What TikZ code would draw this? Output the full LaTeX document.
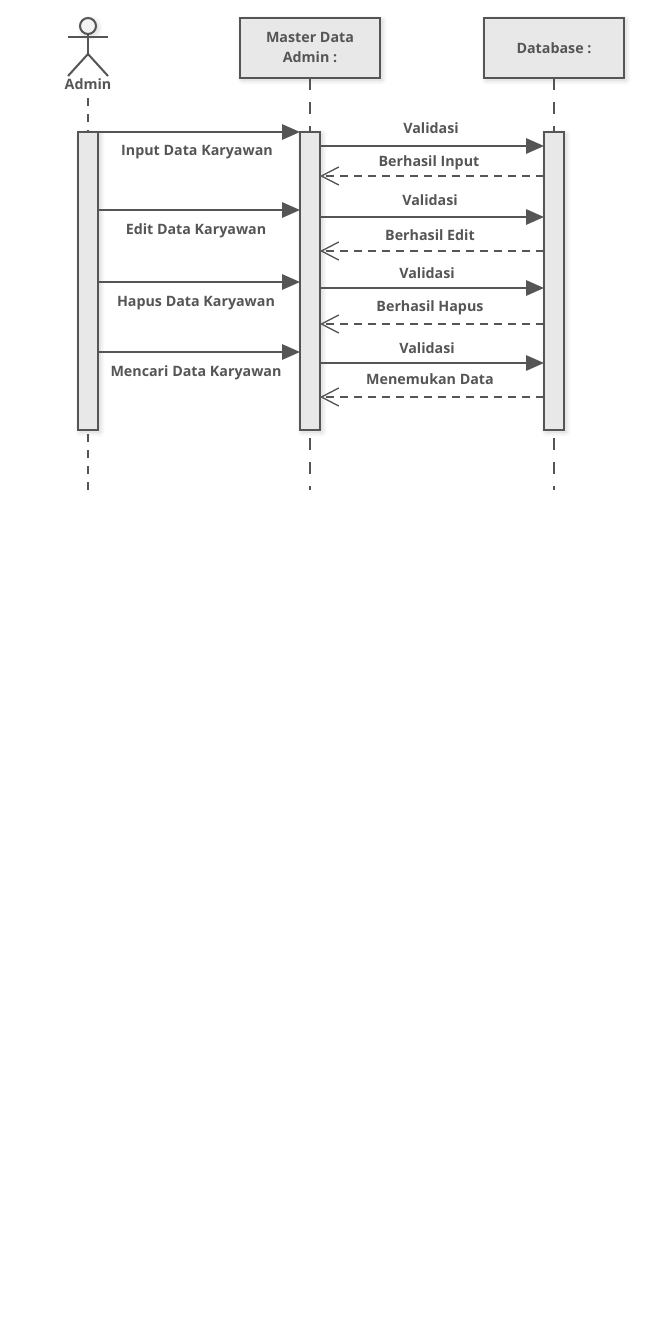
\documentclass[tikz,border=0pt]{standalone}
\usepackage{xcolor}
\usepackage{fontspec}
\setmainfont{Open Sans}
\usepackage{tikz}
\usetikzlibrary{arrows.meta,shadows.blur}
\definecolor{ink}{HTML}{555555}
\definecolor{panel}{HTML}{E8E8E8}
\tikzset{
  soft/.style={blur shadow={shadow xshift=1.5pt,shadow yshift=-1.5pt,shadow blur steps=8,shadow blur radius=4pt,shadow opacity=18}},
  objbox/.style={draw=ink,fill=panel,line width=1.5pt,minimum width=105pt,minimum height=45pt,outer sep=0pt,inner sep=0pt,align=center,text=ink,font=\fontsize{10.7}{15}\selectfont\bfseries,soft},
  actbar/.style={draw=ink,fill=panel,line width=1.5pt,minimum width=15pt,minimum height=223.5pt,outer sep=0pt,inner sep=0pt,soft},
  txt/.style={text=ink,inner sep=0pt,font=\fontsize{10.7}{13}\selectfont\bfseries},
  lifeline/.style={draw=ink,line width=1.5pt,dash pattern=on 9pt off 9pt},
  actorline/.style={draw=ink,line width=1.5pt,dash pattern=on 6pt off 6pt},
  call/.style={draw=ink,line width=1.5pt,-{Triangle[length=13.5pt,width=11.5pt]}},
  reply/.style={draw=ink,line width=1.5pt,dash pattern=on 6pt off 4.5pt,-{Straight Barb[length=13pt,width=13.5pt,line width=1pt]}}
}
\begin{document}
\begin{tikzpicture}[x=0.75pt,y=-0.75pt]
\useasboundingbox (0,0) rectangle (644,1342);

\node[objbox] (master) at (310,48) {Master Data\\Admin :};
\node[objbox] (database) at (554,48) {Database :};
\node[txt] (admin) at (88,84) {Admin};

\coordinate (adminend) at (88,490);
\coordinate (masterend) at (310,490);
\coordinate (databaseend) at (554,490);

\node[actbar] (adminbar) at (88,281) {};
\node[actbar] (masterbar) at (310,281) {};
\node[actbar] (databasebar) at (554,281) {};

\draw[actorline] (admin.south |- 0,98) -- (adminbar.north);
\draw[lifeline] (master.south) -- (masterbar.north);
\draw[lifeline] (database.south) -- (databasebar.north);
\draw[actorline,dash phase=9pt] (adminbar.south) -- (adminend);
\draw[lifeline,dash phase=12pt] (masterbar.south) -- (masterend);
\draw[lifeline,dash phase=12pt] (databasebar.south) -- (databaseend);

\node[circle,draw=ink,line width=1.5pt,fill=panel!50!white,minimum size=12pt,inner sep=0pt,outer sep=0pt,soft] (head) at (88,26) {};
\coordinate (hip) at (88,54);
\draw[draw=ink,line width=1.5pt] (head.south) -- (hip);
\draw[draw=ink,line width=1.5pt] (68,37) -- (108,37);
\draw[draw=ink,line width=1.5pt] (68,76) -- (hip) -- (108,76);

\draw[call] (adminbar.east |- 0,132) -- (masterbar.west |- 0,132);
\draw[call] (adminbar.east |- 0,210) -- (masterbar.west |- 0,210);
\draw[call] (adminbar.east |- 0,282) -- (masterbar.west |- 0,282);
\draw[call] (adminbar.east |- 0,352) -- (masterbar.west |- 0,352);

\draw[call] (masterbar.east |- 0,146) -- (databasebar.west |- 0,146);
\draw[reply] (databasebar.west |- 0,176) -- (masterbar.east |- 0,176);
\draw[call] (masterbar.east |- 0,217) -- (databasebar.west |- 0,217);
\draw[reply] (databasebar.west |- 0,251) -- (masterbar.east |- 0,251);
\draw[call] (masterbar.east |- 0,288) -- (databasebar.west |- 0,288);
\draw[reply] (databasebar.west |- 0,324) -- (masterbar.east |- 0,324);
\draw[call] (masterbar.east |- 0,363) -- (databasebar.west |- 0,363);
\draw[reply] (databasebar.west |- 0,397) -- (masterbar.east |- 0,397);

\node[txt] (input) at (197,152) {Input Data Karyawan};
\node[txt] (edit) at (196,231) {Edit Data Karyawan};
\node[txt] (hapus) at (196,303) {Hapus Data Karyawan};
\node[txt] (cari) at (196,373) {Mencari Data Karyawan};

\node[txt] (val1) at (431,128) {Validasi};
\node[txt] (ok1) at (429,163) {Berhasil Input};
\node[txt] (val2) at (430,200) {Validasi};
\node[txt] (ok2) at (430,235) {Berhasil Edit};
\node[txt] (val3) at (427,273) {Validasi};
\node[txt] (ok3) at (430,308) {Berhasil Hapus};
\node[txt] (val4) at (427,348) {Validasi};
\node[txt] (ok4) at (430,379) {Menemukan Data};
\end{tikzpicture}
\end{document}
